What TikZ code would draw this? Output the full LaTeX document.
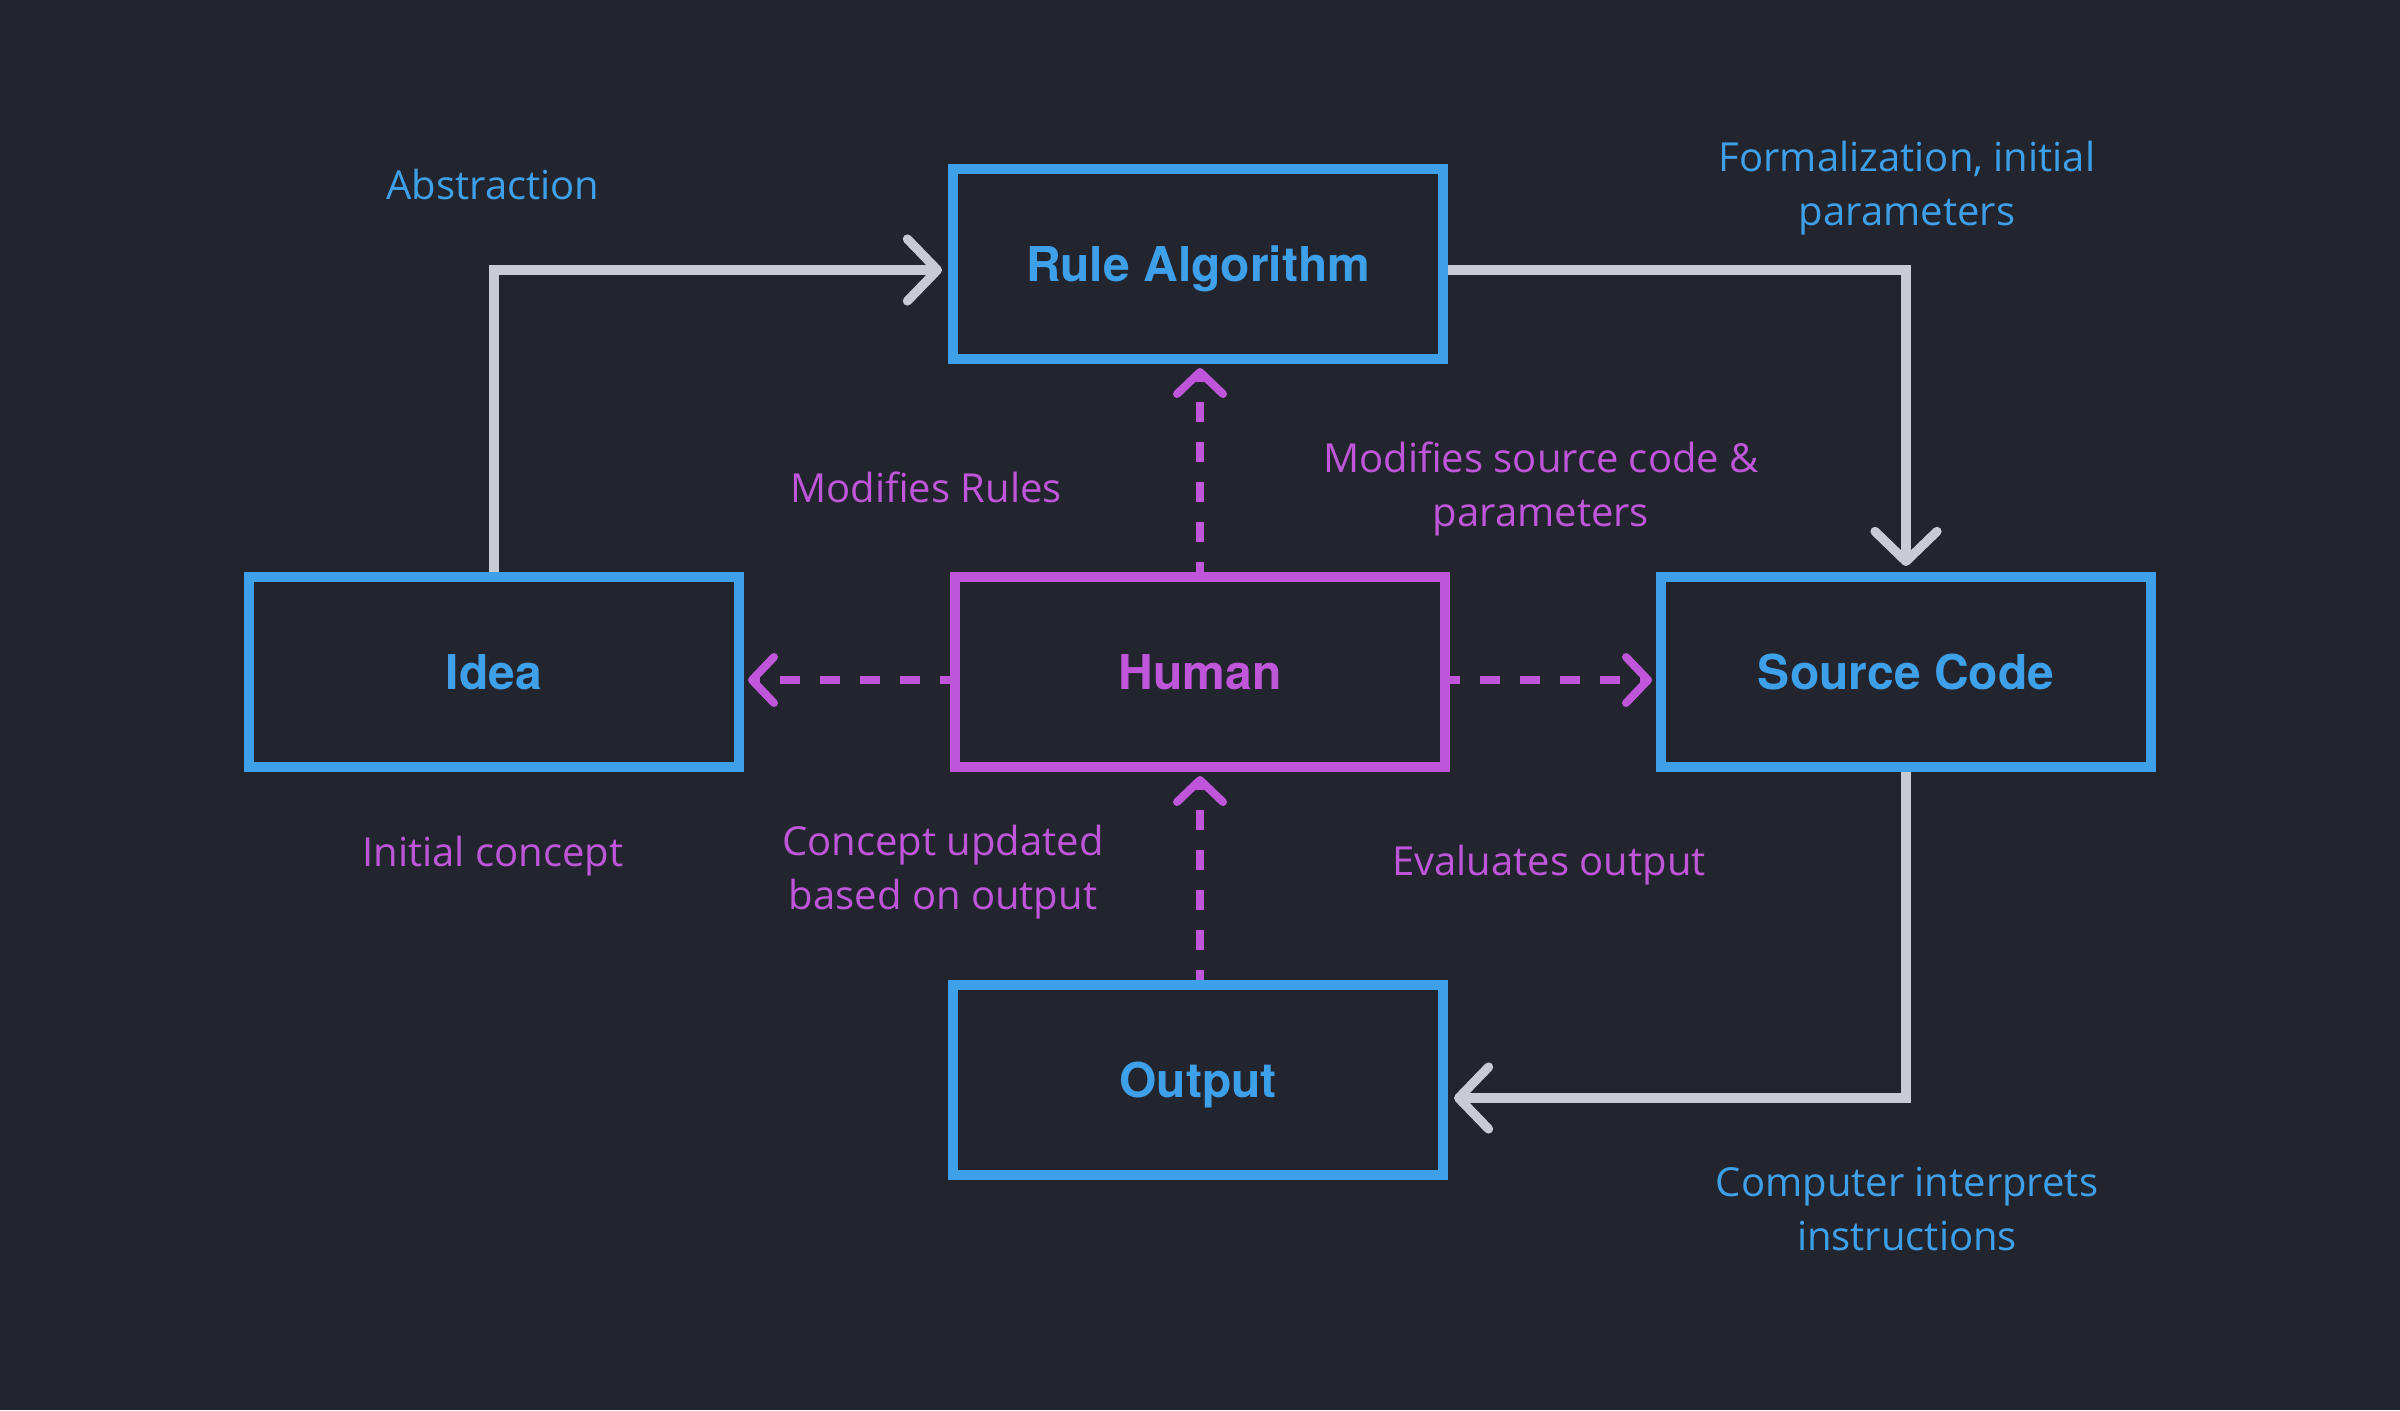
\documentclass[tikz,border=0pt]{standalone}
\usepackage{fontspec}
\setmainfont{Open Sans}
\newfontfamily\titlefont{TeX Gyre Heros}
\usetikzlibrary{arrows.meta}
\definecolor{bgc}{HTML}{22252E}
\definecolor{bluec}{HTML}{3FA0EA}
\definecolor{purplec}{HTML}{BF56D9}
\definecolor{grayc}{HTML}{C8CBD2}
\begin{document}
\begin{tikzpicture}[x=0.5pt,y=-0.5pt,
  box/.style={draw=bluec, line width=5pt, minimum width=245pt, minimum height=95pt,
    inner sep=0pt, text depth=0pt, text=bluec, font=\titlefont\bfseries\fontsize{24}{28}\selectfont},
  hbox/.style={box, draw=purplec, text=purplec},
  conn/.style={draw=grayc, line width=4.6pt,
    -{Straight Barb[length=15pt,width=31pt,round]}, shorten >=3pt},
  dconn/.style={draw=purplec, line width=4pt, dash pattern=on 10pt off 10pt, dash phase=5pt,
    -{Straight Barb[length=11pt,width=23pt,round]}, shorten >=2pt},
  lab/.style={font=\fontsize{20}{26.8}\selectfont, align=center, inner sep=0pt},
  blab/.style={lab, text=bluec},
  plab/.style={lab, text=purplec}]
\fill[bgc] (0,0) rectangle (2400,1410);
\useasboundingbox (0,0) rectangle (2400,1410);

\node[box] (ra) at (1198,264) {Rule Algorithm};
\node[box] (idea) at (494,672) {Idea};
\node[hbox] (hum) at (1200,672) {Human};
\node[box] (sc) at (1906,672) {Source Code};
\node[box] (out) at (1198,1080) {Output};

\draw[conn] (idea.north) |- ([yshift=-3pt]ra.west);
\draw[conn] ([yshift=-3pt]ra.east) -| (sc.north);
\draw[conn] (sc.south) |- ([yshift=-9pt]out.east);

\draw[dconn] (hum.north) -- (hum.north|-ra.south);
\draw[dconn] ([yshift=-4pt]hum.west) -- ([yshift=-4pt]idea.east);
\draw[dconn] ([yshift=-4pt]hum.east) -- ([yshift=-4pt]sc.west);
\draw[dconn] (out.north-|hum.south) -- (hum.south);

\node[blab] (l1) at (493,184) {Abstraction};
\node[blab] (l2) at (1907,188) {Formalization, initial\\parameters};
\node[plab] (l3) at (926,487) {Modifies Rules};
\node[plab] (l4) at (1541,489) {Modifies source code \&\\parameters};
\node[plab] (l5) at (493,856) {Initial concept};
\node[plab] (l6) at (943,872) {Concept updated\\based on output};
\node[plab] (l7) at (1549,865) {Evaluates output};
\node[blab] (l8) at (1907,1209) {Computer interprets\\instructions};
\end{tikzpicture}
\end{document}
